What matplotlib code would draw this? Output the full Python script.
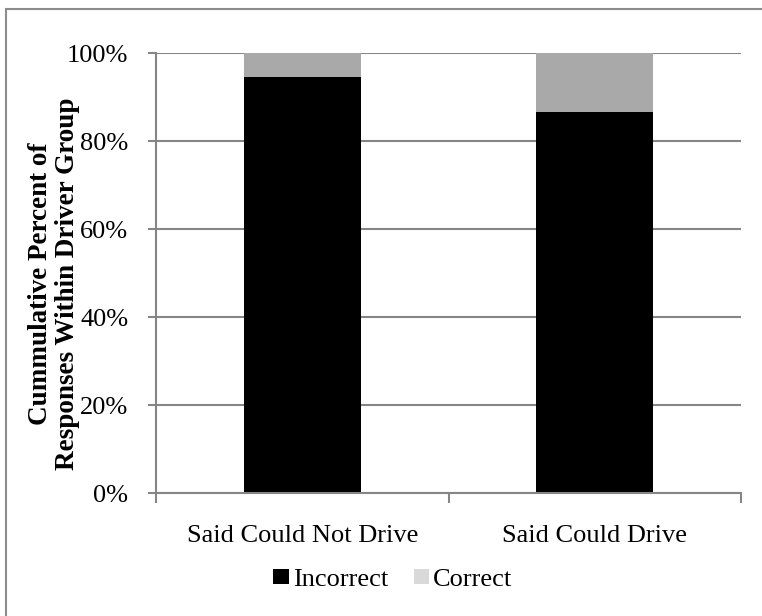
import matplotlib.pyplot as plt
from matplotlib.patches import Patch, Rectangle

plt.rcParams["font.family"] = ["Liberation Serif", "DejaVu Serif"]

groups = ["Said Could Not Drive", "Said Could Drive"]
incorrect = [94.5, 86.7]
correct = [5.5, 13.3]
yticks = [0, 20, 40, 60, 80, 100]

grid_col = "#868686"
fs = 19

fig = plt.figure(figsize=(7.62, 6.16), dpi=100)
ax = fig.add_axes([156 / 762, 123 / 616, 585 / 762, 440 / 616])

x = list(range(len(groups)))
ax.bar(x, incorrect, width=0.4, color="black", zorder=3)
ax.bar(x, correct, width=0.4, bottom=incorrect, color="#a9a9a9", zorder=3)

ax.set_xlim(-0.5, 1.5)
ax.set_ylim(0, 100)
ax.set_yticks(yticks)
ax.set_yticklabels([f"{v}%" for v in yticks], fontsize=fs)
ax.set_xticks(x)
ax.set_xticklabels(groups, fontsize=fs)
ax.set_xticks([-0.5, 0.5, 1.5], minor=True)
ax.tick_params(axis="x", which="major", length=0, pad=23)
ax.tick_params(axis="x", which="minor", length=7, width=1.5, color=grid_col)
ax.tick_params(axis="y", length=6, width=1.5, color=grid_col, pad=14)
ax.yaxis.grid(True, color=grid_col, linewidth=1.5, zorder=0)
ax.set_axisbelow(True)
for s in ["top", "right"]:
    ax.spines[s].set_visible(False)
for s in ["left", "bottom"]:
    ax.spines[s].set_color(grid_col)
    ax.spines[s].set_linewidth(1.5)
    ax.spines[s].set_zorder(4)

fig.text(54 / 762, 1 - 284 / 616, "Cummulative Percent of\nResponses Within Driver Group",
         rotation=90, ha="center", va="center", fontsize=19.5, fontweight="bold",
         linespacing=1.1)

handles = [Patch(facecolor="black", label="Incorrect"),
           Patch(facecolor="#d9d9d9", label="Correct")]
fig.legend(handles=handles, loc="center", bbox_to_anchor=(393 / 762, 1 - 580 / 616),
           ncol=2, frameon=False, fontsize=fs, handlelength=0.6, handleheight=0.5,
           handletextpad=0.15, columnspacing=0.95, borderpad=0)

# chart area border (only top and left visible in the crop)
fig.add_artist(Rectangle((6 / 762, -1), 2, 1 + 607 / 616, transform=fig.transFigure,
                         fill=False, edgecolor="#8c8c8c", linewidth=1.5))

fig.savefig("out.png", dpi=100)
